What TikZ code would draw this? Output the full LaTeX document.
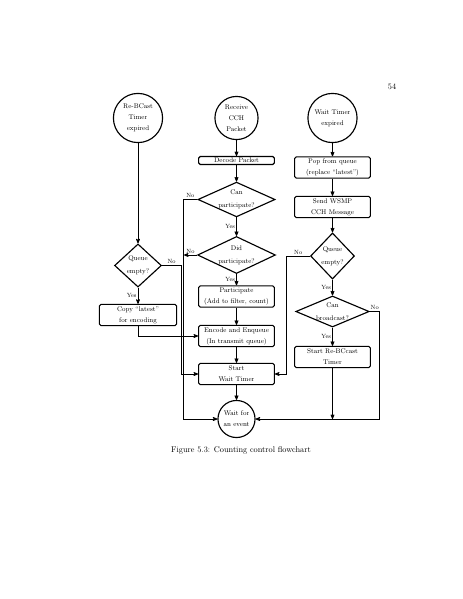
\documentclass[tikz,border=0pt]{standalone}
\usepackage{tikz}
\usetikzlibrary{arrows, shapes.geometric}
\tikzset{
  flownode/.style = {align=center, inner sep=0pt, text centered,
    font=\fontsize{9}{14.5}\selectfont},
  ev/.style = {flownode, circle, black, draw=black, line width=1.5pt},
  act/.style = {flownode, rectangle, rounded corners=2pt, draw=black,
    line width=1.5pt, minimum width=100pt, minimum height=28pt},
  dec/.style = {flownode, diamond, draw=black, line width=1.5pt, inner sep=-3pt,
    font=\fontsize{9}{17}\selectfont},
  lbl/.style = {font=\fontsize{8}{9}\selectfont, inner sep=1.5pt}
}

\begin{document}
\begin{tikzpicture}[->,>=stealth', line width=1.1pt, x=1.3219pt, y=-1.3219pt]
\useasboundingbox (0,0) rectangle (463,599);
\node [font=\fontsize{10.95}{13.6}\selectfont] (pagenum) at (392,87) {54};
% events
\node [ev, minimum size=65pt] (rebcast) at (138,118) {Re-BCast\\Timer\\expired};
\node [ev, minimum size=57pt] (recv) at (236.5,118) {Receive\\CCH\\Packet};
\node [ev, minimum size=65pt] (waitexp) at (332.5,118) {Wait Timer\\expired};
% middle column
\node [act, minimum height=10.5pt] (decode) at (236.5,160.5) {Decode Packet};
\node [dec, minimum width=102pt, minimum height=46pt, aspect=2.2] (canpart) at (236.5,199.5) {Can\\participate?};
\node [dec, minimum width=103pt, minimum height=49pt, aspect=2.1] (didpart) at (236.5,255) {Did\\participate?};
\node [act] (particip) at (236.5,296.5) {Participate\\(Add to filter, count)};
\node [act] (encode) at (236.5,336) {Encode and Enqueue\\(In transmit queue)};
\node [act] (startwait) at (236.5,374) {Start\\Wait Timer};
\node [ev, minimum size=49pt] (waitev) at (236.5,419) {Wait for\\an event};
% left column
\node [dec, minimum width=62pt, minimum height=57pt, aspect=1.09] (qleft) at (138,265.5) {Queue\\empty?};
\node [act, minimum width=102pt] (copy) at (138,315) {Copy ``latest''\\for encoding};
% right column
\node [act] (pop) at (332.5,167.5) {Pop from queue\\(replace ``latest'')};
\node [act] (send) at (332.5,207) {Send WSMP\\CCH Message};
\node [dec, minimum width=58pt, minimum height=61pt, aspect=0.95] (qright) at (332.5,256) {Queue\\empty?};
\node [dec, minimum width=97pt, minimum height=41pt, aspect=2.37] (canbc) at (332.5,311.5) {Can\\broadcast?};
\node [act] (startre) at (332.5,357) {Start Re-BCcast\\Timer};
\node [font=\fontsize{10.95}{13.6}\selectfont] (caption) at (241,450) {Figure 5.3: Counting control flowchart};

\draw (rebcast) -- (qleft);
\draw (qleft) -- node [lbl, left] {Yes} (copy);
\draw (qleft.east) -- node [lbl, above] {No} ++(19,0) |- (startwait.west);
\draw (copy.south) |- (encode.west);

\draw (recv) -- (decode);
\draw (decode) -- (canpart);
\draw (canpart) -- node [lbl, left] {Yes} (didpart);
\draw (canpart.west) -- node [lbl, above] {No} ++(-14,0) |- (waitev.west);
\draw (didpart) -- node [lbl, left] {Yes} (particip);
\draw (didpart.west) -- node [lbl, above] {No} ++(-13,0);
\draw (particip) -- (encode);
\draw (encode) -- (startwait);
\draw (startwait) -- (waitev);

\draw (waitexp) -- (pop);
\draw (pop) -- (send);
\draw (send) -- (qright);
\draw (qright) -- node [lbl, left] {Yes} (canbc);
\draw (qright.west) -- node [lbl, above] {No} ++(-23.5,0) |- (startwait.east);
\draw (canbc) -- node [lbl, left] {Yes} (startre);
\draw (canbc.east) -- node [lbl, above] {No} ++(10,0) |- (waitev.east);
\draw (startre) -- (startre |- waitev);
\end{tikzpicture}
\end{document}
